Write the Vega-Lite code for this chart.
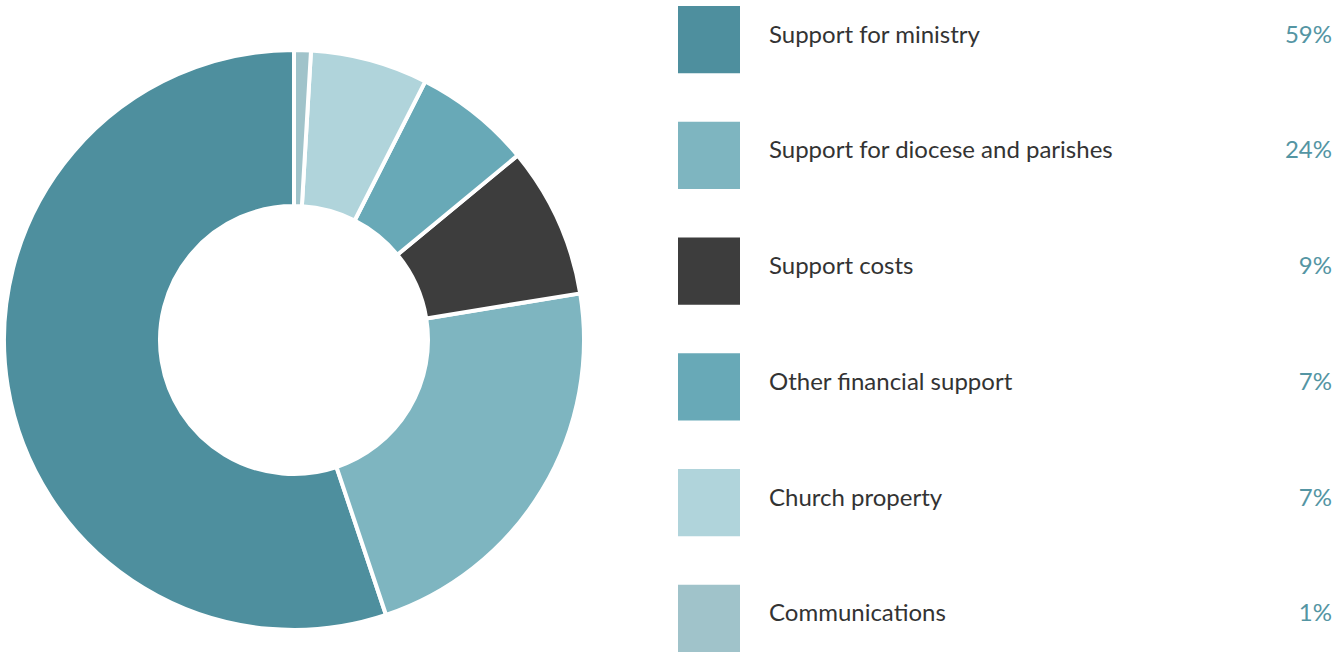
{
  "$schema": "https://vega.github.io/schema/vega-lite/v6.json",
  "background": "white",
  "padding": {"top": 6, "left": 0, "right": 0, "bottom": 0},
  "config": {"view": {"stroke": null}, "font": "Lato"},
  "data": {
    "values": [
      {"name": "Support for ministry", "value": 59, "label": "59%"},
      {"name": "Support for diocese and parishes", "value": 24, "label": "24%"},
      {"name": "Support costs", "value": 9, "label": "9%"},
      {"name": "Other financial support", "value": 7, "label": "7%"},
      {"name": "Church property", "value": 7, "label": "7%"},
      {"name": "Communications", "value": 1, "label": "1%"}
    ]
  },
  "spacing": 90,
  "hconcat": [
    {
      "width": 588,
      "height": 646,
      "transform": [{"window": [{"op": "row_number", "as": "idx"}]}],
      "mark": {
        "type": "arc",
        "outerRadius": 290,
        "innerRadius": 134,
        "stroke": "white",
        "strokeWidth": 4,
        "strokeJoin": "bevel",
        "yOffset": 11
      },
      "encoding": {
        "theta": {"field": "value", "type": "quantitative", "stack": true},
        "order": {"field": "idx", "sort": "descending"},
        "color": {
          "field": "name",
          "type": "nominal",
          "legend": null,
          "scale": {
            "domain": ["Support for ministry", "Support for diocese and parishes", "Support costs", "Other financial support", "Church property", "Communications"],
            "range": ["#4e8f9e", "#7eb5c0", "#3d3d3d", "#68a9b7", "#b0d4db", "#a0c3ca"]
          }
        }
      }
    },
    {
      "width": 62,
      "height": 646,
      "encoding": {
        "y": {
          "field": "name",
          "type": "nominal",
          "sort": null,
          "axis": null,
          "scale": {"paddingInner": 0.42, "paddingOuter": 0}
        }
      },
      "layer": [
        {
          "mark": {"type": "rect"},
          "encoding": {
            "color": {
              "field": "name",
              "type": "nominal",
              "legend": null,
              "scale": {
                "domain": ["Support for ministry", "Support for diocese and parishes", "Support costs", "Other financial support", "Church property", "Communications"],
                "range": ["#4e8f9e", "#7eb5c0", "#3d3d3d", "#68a9b7", "#b0d4db", "#a0c3ca"]
              }
            }
          }
        },
        {
          "mark": {"type": "text", "align": "left", "baseline": "alphabetic", "dx": 60, "dy": 3, "fontSize": 24, "color": "#333333", "font": "Lato"},
          "encoding": {"text": {"field": "name"}}
        },
        {
          "mark": {"type": "text", "align": "right", "baseline": "alphabetic", "dx": 623, "dy": 3, "fontSize": 24, "color": "#5495a3", "font": "Lato"},
          "encoding": {"text": {"field": "label"}}
        }
      ]
    }
  ]
}
